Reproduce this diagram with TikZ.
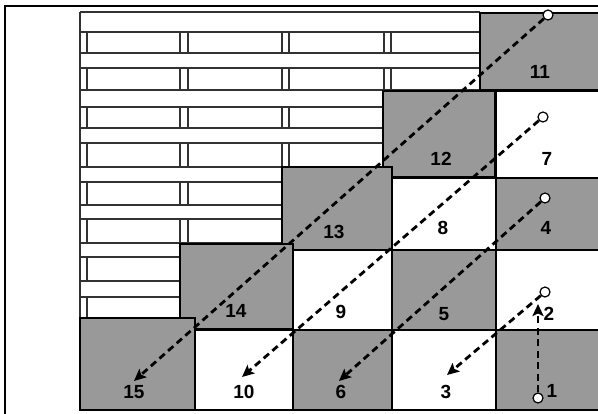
\documentclass[tikz,border=0pt]{standalone}
\usepackage{fontspec}
\setmainfont{Liberation Sans}
\usetikzlibrary{arrows.meta, positioning, calc}
\definecolor{cellgray}{RGB}{153,153,153}
\definecolor{brickline}{RGB}{50,50,50}

\begin{document}
\begin{tikzpicture}[x=1pt, y=-1pt,
  cellbox/.style={draw=black, line width=1.4pt},
  brick/.style={brickline, line width=1.1pt},
  numlabel/.style={font=\fontsize{19}{19}\selectfont\bfseries, inner sep=0pt},
  startdot/.style={circle, draw=black, fill=white, line width=1.2pt, inner sep=0pt, minimum size=10pt},
  flow/.style={line width=2.8pt, dash pattern=on 7pt off 4.5pt, -{Stealth[length=12pt, width=11pt, inset=2.5pt]}}]
  \useasboundingbox (0,0) rectangle (598,414);
  % Frame
  \draw[line width=2pt] (5,414) -- (5,6) -- (598,6);
  % Brick wall
  \fill[white] (80,12) rectangle (598,410);
  \foreach \y in {12,32,53,68,90,107,128,143,167,182,205,219,243,257,281,297,318} {
    \draw[brick] (80,\y) -- (480,\y);
  }
  \foreach \ya/\yb in {32/53, 68/90, 107/128, 143/167, 182/205, 219/243, 257/281, 297/318} {
    \foreach \x in {87,180,188,282,289,384,391} {
      \draw[brick] (\x,\ya) -- (\x,\yb);
    }
  }
  \draw[brick] (80,12) -- (80,410);
  % Grid cells
  \foreach \xa/\ya/\xb/\yb/\col/\num/\lx/\ly in {
      496/330/601/410/cellgray/1/552/391, 392/330/496/410/white/3/446/392,
      293/330/392/410/cellgray/6/341/392, 195/330/293/410/white/10/244/392,
      496/250/601/330/white/2/549/314, 392/250/496/330/cellgray/5/444/314,
      293/250/392/330/white/9/341/312,
      496/178/601/250/cellgray/4/546/228, 392/178/496/250/white/8/443/228,
      496/91/601/178/white/7/547/159} {
    \draw[cellbox, fill=\col] (\xa,\ya) rectangle (\xb,\yb);
    \node[numlabel] (n\num) at (\lx,\ly) {\num};
  }
  % Diagonal blocks
  \foreach \xa/\ya/\xb/\yb/\num/\lx/\ly in {
      480/13/601/90/11/540/72, 383/91/495/177/12/441/159,
      282/167/392/250/13/334/232, 180/244/293/329/14/236/311,
      80/318/195/410/15/134/392} {
    \draw[cellbox, fill=cellgray] (\xa,\ya) rectangle (\xb,\yb);
    \node[numlabel] (n\num) at (\lx,\ly) {\num};
  }
  % Start points
  \node[startdot] (s11) at (548,15) {};
  \node[startdot] (s7) at (543,117) {};
  \node[startdot] (s4) at (545,198) {};
  \node[startdot] (s2) at (545,292) {};
  \node[startdot] (s1) at (538,398) {};
  % Arrow ends
  \coordinate (e15) at (134,381);
  \coordinate (e10) at (242,377);
  \coordinate (e6) at (339,381);
  \coordinate (e3) at (447,375);
  \coordinate (e2) at (538,304);
  \draw[flow] (s11) -- (e15);
  \draw[flow] (s7) -- (e10);
  \draw[flow] (s4) -- (e6);
  \draw[flow] (s2) -- (e3);
  \draw[flow] (s1) -- (e2);
\end{tikzpicture}
\end{document}
